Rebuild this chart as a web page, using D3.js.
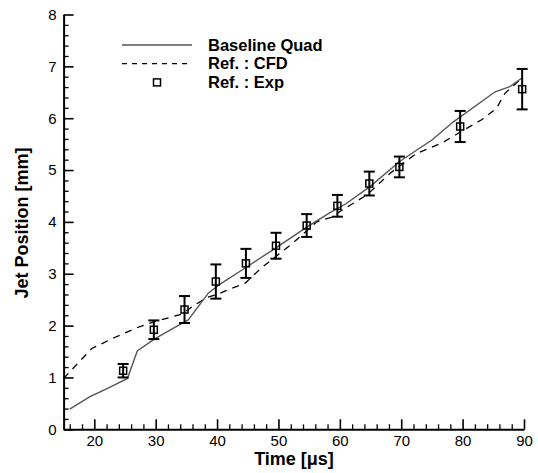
<!DOCTYPE html>
<html>
<head>
<meta charset="utf-8">
<script src="https://cdn.jsdelivr.net/npm/d3@7"></script>
<style>
  body { margin: 0; background: #fff; }
  text { font-family: "Liberation Sans", Arial, sans-serif; }
</style>
</head>
<body>
<div id="chart"></div>
<script>
// data
const baselineX = [16.0, 19.3, 22.5, 25.4, 27.0, 29.9, 34.2, 35.3, 38.6, 40.5, 44.7, 49.6, 54.6, 58.4, 61.0, 64.9, 69.8, 75.0, 78.5, 85.3, 87.7, 89.6]
const baselineY = [0.39, 0.63, 0.81, 0.98, 1.51, 1.75, 2.04, 2.11, 2.63, 2.80, 3.12, 3.50, 3.90, 4.18, 4.35, 4.68, 5.17, 5.58, 5.93, 6.51, 6.61, 6.77]

const cfdX = [15.0, 19.6, 23.5, 27.2, 29.9, 34.2, 36.4, 38.5, 40.0, 42.4, 44.6, 47.0, 49.2, 51.6, 53.5, 56.2, 58.9, 60.0, 64.4, 68.2, 72.5, 76.6, 79.3, 83.1, 85.5, 86.9, 89.6]
const cfdY = [0.98, 1.56, 1.78, 1.97, 2.08, 2.22, 2.40, 2.55, 2.60, 2.72, 2.82, 3.09, 3.30, 3.52, 3.71, 4.00, 4.10, 4.20, 4.52, 4.94, 5.32, 5.52, 5.71, 5.97, 6.19, 6.48, 6.77]

const expX = [24.7, 29.7, 34.7, 39.8, 44.7, 49.6, 54.6, 59.6, 64.8, 69.7, 79.6, 89.7]
const expY = [1.13, 1.92, 2.31, 2.85, 3.20, 3.54, 3.93, 4.31, 4.74, 5.06, 5.84, 6.56]
const expErr = [0.13, 0.18, 0.26, 0.33, 0.28, 0.25, 0.22, 0.21, 0.23, 0.20, 0.30, 0.39]

const xMajor = [20, 30, 40, 50, 60, 70, 80, 90]
const yMajor = [0, 1, 2, 3, 4, 5, 6, 7, 8]

const legendLabels = ["Baseline Quad", "Ref. : CFD", "Ref. : Exp"]

const width = 538, height = 473
const margin = {left: 63.6, right: 14, top: 14.5, bottom: 43.7}

const svg = d3.select("#chart").append("svg")
    .attr("width", width)
    .attr("height", height)

const x = d3.scaleLinear().domain([15, 90]).range([margin.left, width - margin.right])
const y = d3.scaleLinear().domain([0, 8]).range([height - margin.bottom, margin.top])

const xMinor = d3.range(16, 90, 2).filter(d => d % 10 !== 0)
const yMinor = d3.range(0, 8.001, 0.2).filter(d => Math.abs(d - Math.round(d)) > 0.01)

// minor ticks
svg.append("g")
    .attr("transform", `translate(0,${y(0)})`)
    .call(d3.axisBottom(x).tickValues(xMinor).tickSize(-5).tickFormat(""))
    .call(g => g.select(".domain").remove())
    .selectAll("line").attr("stroke-width", 1.3)

svg.append("g")
    .attr("transform", `translate(${x(15)},0)`)
    .call(d3.axisLeft(y).tickValues(yMinor).tickSize(-5).tickFormat(""))
    .call(g => g.select(".domain").remove())
    .selectAll("line").attr("stroke-width", 1.3)

// major axes
const xAxis = svg.append("g")
    .attr("transform", `translate(0,${y(0)})`)
    .call(d3.axisBottom(x).tickValues(xMajor).tickSize(-10).tickSizeOuter(0).tickPadding(6))
xAxis.select(".domain").attr("stroke-width", 2)
xAxis.selectAll(".tick line").attr("stroke-width", 1.6)
xAxis.selectAll("text").attr("font-size", 15).attr("fill", "#000")

const yAxis = svg.append("g")
    .attr("transform", `translate(${x(15)},0)`)
    .call(d3.axisLeft(y).tickValues(yMajor).tickSize(-10).tickSizeOuter(0).tickPadding(7))
yAxis.select(".domain").attr("stroke-width", 2)
yAxis.selectAll(".tick line").attr("stroke-width", 1.6)
yAxis.selectAll("text").attr("font-size", 15).attr("fill", "#000")

// axis titles
svg.append("text")
    .attr("x", 294)
    .attr("y", 465)
    .attr("text-anchor", "middle")
    .attr("font-size", 18)
    .attr("font-weight", "bold")
    .text("Time [μs]")

svg.append("text")
    .attr("transform", "translate(28,223) rotate(-90)")
    .attr("text-anchor", "middle")
    .attr("font-size", 18)
    .attr("font-weight", "bold")
    .text("Jet Position [mm]")

const line = d3.line().x(d => x(d[0])).y(d => y(d[1]))

svg.append("path")
    .datum(d3.zip(cfdX, cfdY))
    .attr("d", line)
    .attr("fill", "none")
    .attr("stroke", "#000")
    .attr("stroke-width", 1.3)
    .attr("stroke-dasharray", "7,6")

svg.append("path")
    .datum(d3.zip(baselineX, baselineY))
    .attr("d", line)
    .attr("fill", "none")
    .attr("stroke", "#555")
    .attr("stroke-width", 1.4)

// experimental points with error bars
const exp = expX.map((d, i) => ({x: d, y: expY[i], e: expErr[i]}))
const bars = svg.append("g").selectAll("g")
    .data(exp)
    .join("g")
    .attr("stroke", "#000")
    .attr("fill", "none")

bars.append("line")
    .attr("x1", d => x(d.x)).attr("x2", d => x(d.x))
    .attr("y1", d => y(d.y + d.e)).attr("y2", d => y(d.y - d.e))
    .attr("stroke-width", 2)
bars.append("line")
    .attr("x1", d => x(d.x) - 5.5).attr("x2", d => x(d.x) + 5.5)
    .attr("y1", d => y(d.y + d.e)).attr("y2", d => y(d.y + d.e))
    .attr("stroke-width", 2)
bars.append("line")
    .attr("x1", d => x(d.x) - 5.5).attr("x2", d => x(d.x) + 5.5)
    .attr("y1", d => y(d.y - d.e)).attr("y2", d => y(d.y - d.e))
    .attr("stroke-width", 2)
bars.append("rect")
    .attr("x", d => x(d.x) - 3.5).attr("y", d => y(d.y) - 3.5)
    .attr("width", 7).attr("height", 7)
    .attr("stroke-width", 1.5)

// legend
const legend = svg.append("g").attr("transform", "translate(122,45)")
const rowH = 18.7

legend.append("line")
    .attr("x1", 0).attr("x2", 70).attr("y1", 0).attr("y2", 0)
    .attr("stroke", "#555").attr("stroke-width", 1.4)
legend.append("line")
    .attr("x1", 0).attr("x2", 70).attr("y1", rowH).attr("y2", rowH)
    .attr("stroke", "#000").attr("stroke-width", 1.3).attr("stroke-dasharray", "5,5")
legend.append("rect")
    .attr("x", 35 - 3.5).attr("y", 2 * rowH - 3.5).attr("width", 7).attr("height", 7)
    .attr("fill", "none").attr("stroke", "#000").attr("stroke-width", 1.5)

legend.selectAll("text.lab")
    .data(legendLabels)
    .join("text")
    .attr("class", "lab")
    .attr("x", 86)
    .attr("y", (d, i) => i * rowH + 5.5)
    .attr("font-size", 16.5)
    .attr("font-weight", "bold")
    .text(d => d)
</script>
</body>
</html>
